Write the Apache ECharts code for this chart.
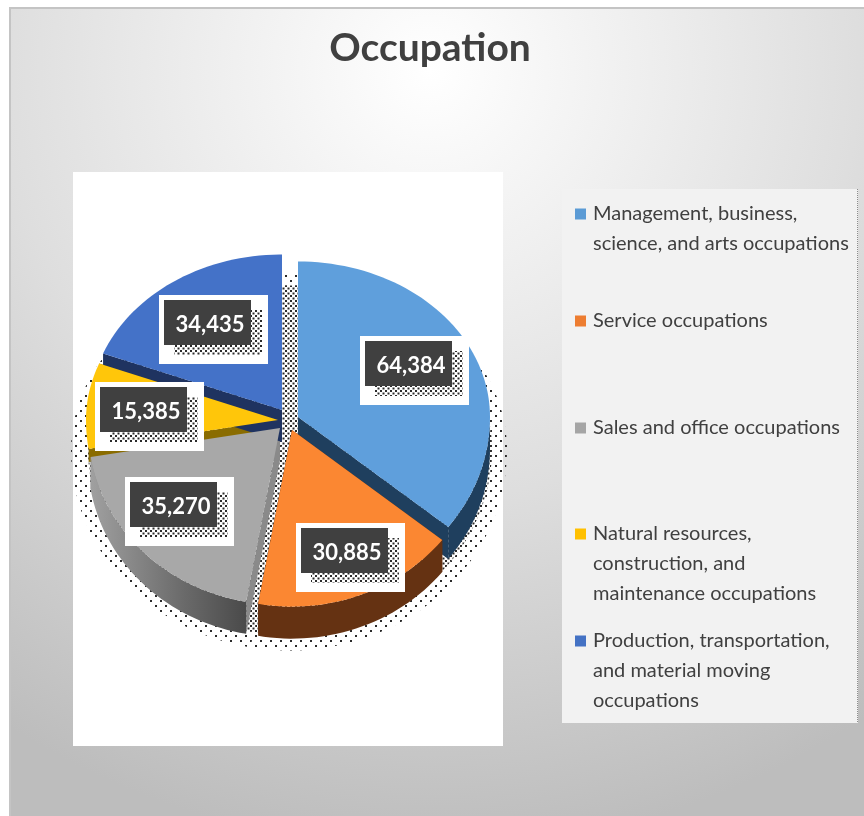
<!DOCTYPE html>
<html>
<head>
<meta charset="utf-8">
<title>Occupation</title>
<style>
  html, body { margin: 0; padding: 0; background: #fff; }
  #main { width: 864px; height: 816px; }
</style>
<script src="https://cdn.jsdelivr.net/npm/echarts@6/dist/echarts.min.js"></script>
</head>
<body>
<div id="main"></div>
<script>
// Data
const categories = [
    'Management, business,\nscience, and arts occupations',
    'Service occupations',
    'Sales and office occupations',
    'Natural resources,\nconstruction, and\nmaintenance occupations',
    'Production, transportation,\nand material moving\noccupations'
];
const values = [64384, 30885, 35270, 15385, 34435];
const valueLabels = ['64,384', '30,885', '35,270', '15,385', '34,435'];

// Styles
const topColors = ['#5f9fdc', '#fb8732', '#a8a8a8', '#ffc60a', '#4472c8'];
const legendColors = ['#5b9bd5', '#ed7d31', '#a5a5a5', '#ffc000', '#4472c4'];
const wallColors = ['#1f3f5e', '#653212', '#5a5a5a', '#8a6c00', '#1f3360'];
const faceColors = ['#1f3f5e', '#653212', '#8a8a8a', '#8a6c00', '#1f3360'];

// Slice layout (the pie is tilted, so the radius is squashed differently above and below the apex)
const apexes = [[298, 417], [292, 430], [280, 428], [278, 420], [282, 410]];
const faceDepths = [32, 32, 32, 13, 32];
const labelCorners = [[360, 336], [296, 523], [125, 477], [95, 382], [159, 295]];
const legendTops = [199, 306, 413, 519, 626];
const radius = 192;
const depth = 32;
const squashTop = 0.81;
const squashBottom = 0.92;

const total = values.reduce((a, b) => a + b, 0);

function dotPattern(size, dot) {
    const c = document.createElement('canvas');
    c.width = size;
    c.height = size;
    const ctx = c.getContext('2d');
    ctx.fillStyle = '#2b2b2b';
    ctx.fillRect(0, 0, dot, dot);
    ctx.fillRect(size / 2, size / 2, dot, dot);
    return { image: c, repeat: 'repeat' };
}
const denseDots = dotPattern(5, 2);
const sparseDots = dotPattern(10, 2);

function rimPoint(apex, r, deg) {
    const a = deg * Math.PI / 180;
    const cos = Math.cos(a);
    return [apex[0] + r * Math.sin(a), apex[1] - r * cos * (cos > 0 ? squashTop : squashBottom)];
}

function arcPoints(apex, r, from, to) {
    const pts = [];
    for (let d = from; d < to; d += 2) pts.push(rimPoint(apex, r, d));
    pts.push(rimPoint(apex, r, to));
    return pts;
}

function shifted(pts, dx, dy) {
    return pts.map(p => [p[0] + dx, p[1] + dy]);
}

function poly(points, style, z2) {
    return { type: 'polygon', shape: { points: points }, style: style, z2: z2, silent: true };
}

function renderSlice(i, params, api) {
    const start = values.slice(0, i).reduce((a, b) => a + b, 0) / total * 360;
    const end = start + api.value(0) / total * 360;
    const apex = apexes[i];
    const arc = arcPoints(apex, radius, start, end);
    const children = [];

    // dotted shadow, one common ellipse behind all the slices
    const sparseCentre = [289, 450];
    const denseCentre = [290, 449];
    children.push(poly([sparseCentre].concat(arcPoints(sparseCentre, 218, start, end)), { fill: sparseDots }, 1));
    children.push(poly([denseCentre].concat(arcPoints(denseCentre, 202, start, end)), { fill: '#ffffff' }, 1.5));
    children.push(poly([denseCentre].concat(arcPoints(denseCentre, 202, start, end)), { fill: denseDots }, 1.6));

    // outer wall, only the part that faces the viewer (the yellow one is hidden by gray)
    const wallFrom = Math.max(start, 90);
    const wallTo = Math.min(end, 270);
    if (wallTo > wallFrom && i !== 3) {
        const wall = arcPoints(apex, radius, wallFrom, wallTo);
        const fill = i === 2
            ? new echarts.graphic.LinearGradient(0, 0, 1, 0, [
                { offset: 0, color: '#a0a0a0' },
                { offset: 0.6, color: '#6a6a6a' },
                { offset: 1, color: '#4a4a4a' }
            ])
            : wallColors[i];
        children.push(poly(wall.concat(shifted(wall, 0, depth).reverse()), { fill: fill }, 2.5));
    }

    // cut faces along both straight edges
    [arc[0], arc[arc.length - 1]].forEach(p => {
        const d = faceDepths[i];
        children.push(poly([apex, p, [p[0], p[1] + d], [apex[0], apex[1] + d]], { fill: faceColors[i] }, 2));
    });

    // top surface
    children.push(poly([apex].concat(arc), { fill: topColors[i] }, 3));

    // value label
    const c = labelCorners[i];
    children.push({ type: 'rect', shape: { x: c[0], y: c[1], width: 109, height: 69 }, style: { fill: '#fff' }, z2: 10, silent: true });
    children.push({ type: 'rect', shape: { x: c[0] + 15, y: c[1] + 15, width: 88, height: 45 }, style: { fill: denseDots }, z2: 11, silent: true });
    children.push({ type: 'rect', shape: { x: c[0] + 5, y: c[1] + 5, width: 87, height: 45 }, style: { fill: '#404040' }, z2: 12, silent: true });
    children.push({
        type: 'text', z2: 13, silent: true,
        style: {
            x: c[0] + 51, y: c[1] + 30, text: valueLabels[i], fill: '#fff',
            font: 'bold 22px Lato, "Open Sans", sans-serif', align: 'center', verticalAlign: 'middle'
        }
    });
    return { type: 'group', children: children };
}

// The legend centres its symbol on the whole text block, so the symbol path is padded
// to the block's height to keep the square on the first line.
function legendIcon(lines) {
    const h = lines * 30;
    return 'path://M0 9.5H11V20.5H0Z M0 0L13 0 M0 ' + h + 'L13 ' + h;
}

const chart = echarts.init(document.getElementById('main'), null, { renderer: 'canvas' });

const option = {
    animation: false,
    backgroundColor: '#ffffff',
    title: {
        text: 'Occupation',
        left: 425,
        top: 24,
        textAlign: 'center',
        textStyle: { fontFamily: 'Lato, "Open Sans", sans-serif', fontSize: 39, fontWeight: 'bold', color: '#404040' }
    },
    graphic: [
        {
            type: 'rect', z: -10, silent: true,
            shape: { x: 10, y: 8, width: 870, height: 830 },
            style: {
                fill: {
                    type: 'radial', x: 430, y: 70, r: 780, global: true,
                    colorStops: [
                        { offset: 0, color: '#ffffff' },
                        { offset: 0.55, color: '#dedede' },
                        { offset: 1, color: '#bdbdbd' }
                    ]
                },
                stroke: '#c4c4c4', lineWidth: 2
            }
        },
        { type: 'rect', z: -9, silent: true, shape: { x: 73, y: 172, width: 430, height: 574 }, style: { fill: '#ffffff' } },
        { type: 'rect', z: -9, silent: true, shape: { x: 562, y: 189, width: 296, height: 534 }, style: { fill: '#f2f2f2' } },
        { type: 'line', z: -9, silent: true, shape: { x1: 857.5, y1: 189, x2: 857.5, y2: 723 }, style: { stroke: '#8c8c8c', lineWidth: 1, lineDash: [1, 1] } }
    ],
    legend: categories.map((name, i) => {
        const lines = name.split('\n').length;
        return {
            data: [{ name: name, icon: legendIcon(lines) }],
            orient: 'vertical',
            left: 575,
            top: legendTops[i],
            selectedMode: false,
            itemWidth: 13,
            itemHeight: lines * 30,
            itemGap: 0,
            padding: 0,
            textStyle: {
                fontFamily: 'Lato, "Open Sans", sans-serif',
                fontSize: 20,
                lineHeight: 30,
                color: '#404040'
            }
        };
    }),
    series: categories.map((name, i) => ({
        type: 'custom',
        name: name,
        coordinateSystem: 'none',
        silent: true,
        itemStyle: { color: legendColors[i] },
        renderItem: (params, api) => renderSlice(i, params, api),
        data: [[values[i]]]
    }))
};

chart.setOption(option);
</script>
</body>
</html>
